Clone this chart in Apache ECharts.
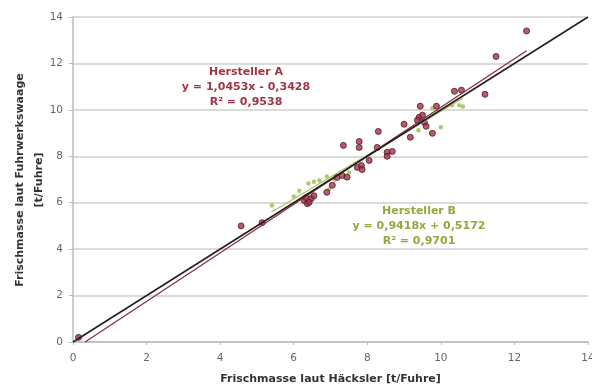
<!DOCTYPE html>
<html>
<head>
<meta charset="utf-8">
<script src="https://cdn.jsdelivr.net/npm/echarts@6/dist/echarts.min.js"></script>
<style>
  html, body { margin: 0; padding: 0; background: #fff; }
  #chart { width: 592px; height: 387px; }
</style>
</head>
<body>
<div id="chart"></div>
<script>
// Hersteller A: [Häcksler, Fuhrwerkswaage] in t/Fuhre
const herstellerA = [
  [0.15, 0.2], [4.57, 5.0], [5.14, 5.14],
  [6.29, 6.09], [6.37, 5.96], [6.34, 6.22], [6.48, 6.18], [6.55, 6.3], [6.42, 6.02],
  [6.9, 6.45], [7.05, 6.75], [7.18, 7.09], [7.32, 7.17], [7.45, 7.1],
  [7.73, 7.52], [7.84, 7.6], [7.86, 7.43], [8.05, 7.82],
  [7.35, 8.47], [7.78, 8.64], [7.78, 8.38], [8.3, 9.07], [8.27, 8.38],
  [8.54, 8.17], [8.68, 8.21], [8.54, 8.0], [9.0, 9.38], [9.17, 8.82],
  [9.44, 10.16], [9.41, 9.68], [9.5, 9.77], [9.36, 9.55], [9.55, 9.46],
  [9.6, 9.29], [9.77, 8.99], [9.88, 10.16],
  [10.37, 10.8], [10.56, 10.85], [11.2, 10.67], [11.5, 12.3], [12.33, 13.4]
];
// Hersteller B
const herstellerB = [
  [5.41, 5.88], [6.0, 6.27], [6.15, 6.52], [6.4, 6.83], [6.55, 6.9],
  [6.7, 6.96], [6.9, 7.13], [6.97, 6.6], [7.1, 7.0], [7.5, 7.3],
  [9.39, 9.12], [10.0, 9.25], [9.77, 10.07], [10.3, 10.2], [10.5, 10.2], [10.6, 10.15]
];
// Trend lines: [slope, intercept, xStart, xEnd]
const trendA = [1.0453, -0.3428, 0.328, 12.33];
const trendB = [0.9418, 0.5172, 5.4, 10.6];
// 1:1 reference line
const identity = [[0, 0], [14, 14]];
const xTicks = [0, 2, 4, 6, 8, 10, 12, 14];
const yTicks = [0, 2, 4, 6, 8, 10, 12, 14];

const labelA = ['Hersteller A', 'y = 1,0453x - 0,3428', 'R² = 0,9538'];
const labelB = ['Hersteller B', 'y = 0,9418x + 0,5172', 'R² = 0,9701'];

const colA = '#9e3444';
const colB = '#93a83e';

function trendPoints(t) {
  return [[t[2], t[0] * t[2] + t[1]], [t[3], t[0] * t[3] + t[1]]];
}

const chart = echarts.init(document.getElementById('chart'));
const font = 'DejaVu Sans';

function textBlock(lines, cx, y0, color) {
  return lines.map((s, i) => ({
    type: 'text',
    x: cx, y: y0 + i * 15,
    style: {
      text: s, fill: color, font: 'bold 11px "DejaVu Sans"',
      textAlign: 'center', textVerticalAlign: 'middle'
    },
    z: 100
  }));
}

chart.setOption({
  animation: false,
  backgroundColor: '#fff',
  grid: { left: 73, right: 4, top: 17, bottom: 45, outerBoundsMode: 'none', containLabel: false },
  xAxis: {
    type: 'value', min: 0, max: 14, interval: 2,
    name: 'Frischmasse laut Häcksler [t/Fuhre]',
    nameLocation: 'middle', nameGap: 32,
    nameTextStyle: { fontFamily: font, fontWeight: 'bold', fontSize: 11, color: '#333' },
    axisLine: { show: true, lineStyle: { color: '#bbb', width: 1.5 } },
    axisTick: { show: true, inside: false, length: 3, lineStyle: { color: '#bbb' } },
    axisLabel: { fontFamily: font, fontSize: 10.5, color: '#666', margin: 11,
      formatter: v => xTicks.includes(v) ? String(v) : '' },
    splitLine: { show: false }
  },
  yAxis: {
    type: 'value', min: 0, max: 14, interval: 2,
    axisLine: { show: true, lineStyle: { color: '#bbb', width: 1.5 } },
    axisTick: { show: true, length: 4, lineStyle: { color: '#bbb' } },
    axisLabel: { fontFamily: font, fontSize: 10.5, color: '#666', margin: 10,
      formatter: v => yTicks.includes(v) ? String(v) : '' },
    splitLine: { show: true, lineStyle: { color: '#cfcfcf', width: 1.5 } }
  },
  graphic: [
    {
      type: 'text', x: 20, y: 180, rotation: Math.PI / 2,
      style: { text: 'Frischmasse laut Fuhrwerkswaage', fill: '#333',
        font: 'bold 11px "DejaVu Sans"', textAlign: 'center', textVerticalAlign: 'middle' }
    },
    {
      type: 'text', x: 39, y: 180, rotation: Math.PI / 2,
      style: { text: '[t/Fuhre]', fill: '#333',
        font: 'bold 11px "DejaVu Sans"', textAlign: 'center', textVerticalAlign: 'middle' }
    },
    ...textBlock(labelA, 246, 72, colA),
    ...textBlock(labelB, 419, 211, colB)
  ],
  series: [
    {
      type: 'scatter', data: herstellerB, symbolSize: 4.5,
      itemStyle: { color: '#a9c25e', opacity: 0.9 }, z: 2
    },
    {
      type: 'scatter', data: herstellerA, symbolSize: 6,
      itemStyle: { color: '#a33247', borderColor: '#4d1a24', borderWidth: 1 }, z: 3
    },
    {
      type: 'line', data: trendPoints(trendB), symbol: 'none',
      lineStyle: { color: '#a9c25e', width: 1.2 }, z: 4
    },
    {
      type: 'line', data: trendPoints(trendA), symbol: 'none',
      lineStyle: { color: '#8a2c3c', width: 1.3 }, z: 5
    },
    {
      type: 'line', data: identity, symbol: 'none',
      lineStyle: { color: '#1e1e1e', width: 1.5 }, z: 6
    }
  ]
});
</script>
</body>
</html>
